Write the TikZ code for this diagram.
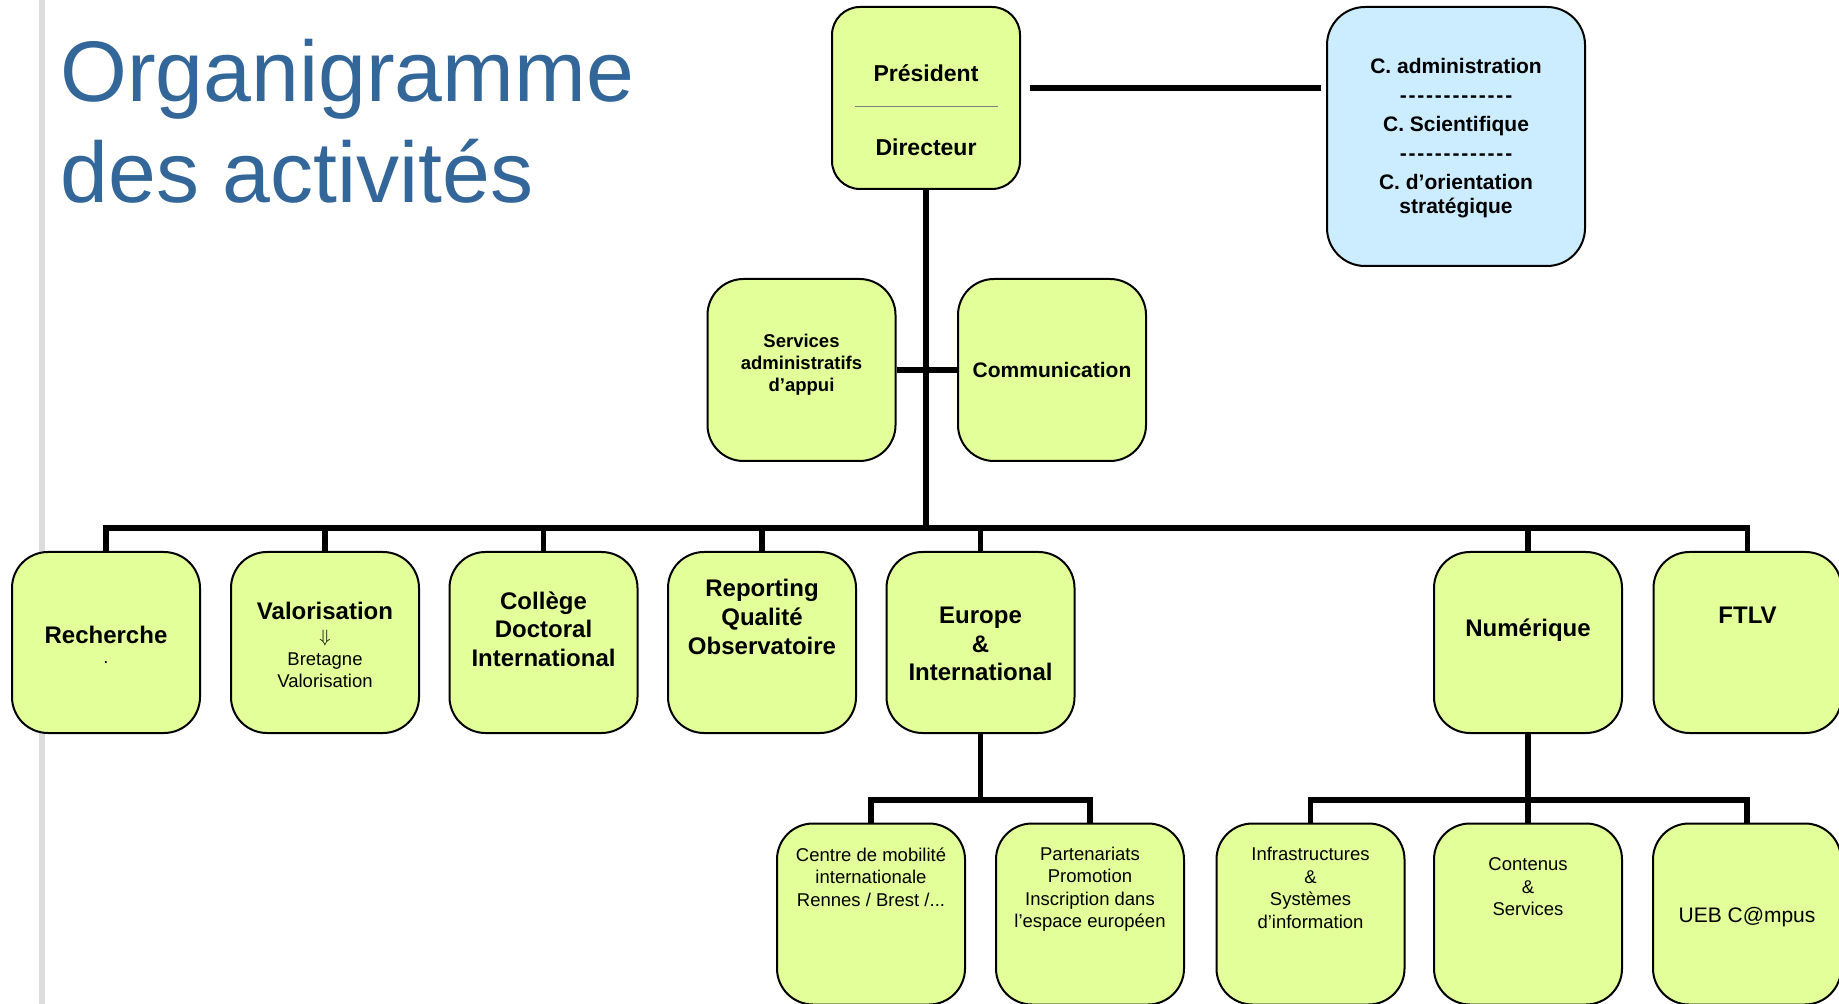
\documentclass[tikz,border=0pt]{standalone}
\usepackage{fontspec}
\setmainfont{Liberation Sans}
\definecolor{boxgreen}{RGB}{227,255,153}
\definecolor{boxblue}{RGB}{204,236,255}
\definecolor{titleblue}{RGB}{51,102,153}
\definecolor{barGray}{RGB}{221,221,221}
\newcommand\dashrow{-\kern0.9pt-\kern0.9pt-\kern0.9pt-\kern0.9pt-\kern0.9pt-\kern0.9pt-\kern0.9pt-\kern0.9pt-\kern0.9pt-\kern0.9pt-\kern0.9pt-\kern0.9pt-}
\tikzset{
  gbox/.style={draw=black, line width=1pt, fill=boxgreen, rounded corners=18pt,
    minimum width=94pt, minimum height=90.5pt, inner sep=0pt},
  bbox/.style={draw=black, line width=1pt, fill=boxblue, rounded corners=19pt,
    minimum width=129pt, minimum height=129.5pt, inner sep=0pt},
  conn/.style={line width=2.9pt, black, line join=miter},
  lbl/.style={align=center, inner sep=0pt, text=black},
  bigb/.style={font=\fontsize{12pt}{14.3pt}\selectfont\bfseries},
  smallr/.style={font=\fontsize{9.25pt}{11.25pt}\selectfont},
  titlef/.style={font=\fontsize{43pt}{50pt}\selectfont, text=titleblue, inner sep=0pt, anchor=base west},
}
\begin{document}
\begin{tikzpicture}[x=0.5pt,y=-0.5pt]
\clip (0,0) rectangle (1839,1004);
\fill[white] (0,0) rectangle (1839,1004);
\fill[barGray] (39,0) rectangle (45,1004);

% title
\node[titlef] (t1) at (60,102) {Organigramme};
\node[titlef] (t2) at (60,203) {des activités};

% helper levels
\coordinate (yline) at (0,88);
\coordinate (bus) at (0,528);
\coordinate (sub) at (0,800);

% boxes
\node[gbox, rounded corners=14pt, minimum height=91pt] (pres) at (926,98) {};
\node[bbox] (council) at (1456,136.5) {};
\node[gbox, minimum height=91pt] (serv) at (801.5,370) {};
\node[gbox, minimum height=91pt] (comm) at (1052,370) {};

\node[gbox] (rech) at (106,642.5) {};
\node[gbox] (valo) at (325,642.5) {};
\node[gbox] (coll) at (543.5,642.5) {};
\node[gbox] (repo) at (762,642.5) {};
\node[gbox] (euro) at (980.5,642.5) {};
\node[gbox] (num) at (1528,642.5) {};
\node[gbox] (ftlv) at (1747.5,642.5) {};

\node[gbox] (cmi) at (871,914) {};
\node[gbox] (part) at (1090,914) {};
\node[gbox] (infra) at (1310.5,914) {};
\node[gbox] (cont) at (1528,914) {};
\node[gbox] (ueb) at (1747,914) {};

% connectors
\draw[conn, shorten <=4.5pt, shorten >=2.5pt] (pres.east |- yline) -- (council.west |- yline);
\draw[conn] (pres.south) -- (pres.south |- bus);
\draw[conn] (serv.east) -- (comm.west);
\draw[conn] (rech.north) -- (rech.north |- bus) -- (ftlv.north |- bus) -- (ftlv.north);
\foreach \b in {valo,coll,repo,euro,num} {\draw[conn] (\b.north |- bus) -- (\b.north);}
\draw[conn] (euro.south) -- (euro.south |- sub);
\draw[conn] (cmi.north) -- (cmi.north |- sub) -- (part.north |- sub) -- (part.north);
\draw[conn] (num.south) -- (cont.north);
\draw[conn] (infra.north) -- (infra.north |- sub) -- (ueb.north |- sub) -- (ueb.north);

% president texts
\node[lbl, font=\fontsize{11.5pt}{13pt}\selectfont\bfseries] (prestxt) at (926,73) {Président};
\draw[gray, line width=0.5pt] (855,107) -- (998,107);
\node[lbl, font=\fontsize{11.5pt}{13pt}\selectfont\bfseries] (dirtxt) at (926,147) {Directeur};

% council text
\node[lbl, font=\fontsize{10.5pt}{12pt}\selectfont\bfseries] (ctxt) at (1456,138)
  {C. administration\\[2.5pt] \dashrow\\[2.5pt] C. Scientifique\\[2.5pt] \dashrow\\[2.5pt] C. d’orientation\\ stratégique};

\node[lbl, font=\fontsize{9.25pt}{11pt}\selectfont\bfseries] (servtxt) at (801.5,365) {Services\\ administratifs\\ d’appui};
\node[lbl, font=\fontsize{10.5pt}{12pt}\selectfont\bfseries] (commtxt) at (1052,370) {Communication};

% row 2 texts
\node[lbl, bigb] (rechtxt) at (106,635) {Recherche};
\node[lbl, smallr] (rechdot) at (106,663) {.};
\node[lbl, bigb] (valotxt) at (325,611) {Valorisation};
\node[lbl, smallr] (valosub) at (325,659) {$\Downarrow$\\ Bretagne\\ Valorisation};
\node[lbl, bigb] (colltxt) at (543.5,629) {Collège\\ Doctoral\\ International};
\node[lbl, bigb] (repotxt) at (762,617) {Reporting\\ Qualité\\ Observatoire};
\node[lbl, bigb] (eurotxt) at (980.5,644) {Europe\\ \&\\ International};
\node[lbl, bigb] (numtxt) at (1528,630) {Numérique};
\node[lbl, bigb] (ftlvtxt) at (1747.5,615) {FTLV};

% bottom texts
\node[lbl, smallr] (cmitxt) at (871,877) {Centre de mobilité\\ internationale\\ Rennes / Brest /...};
\node[lbl, smallr] (parttxt) at (1090,889) {Partenariats\\ Promotion\\ Inscription dans\\ l’espace européen};
\node[lbl, smallr] (infratxt) at (1310.5,888) {Infrastructures\\ \&\\ Systèmes\\ d’information};
\node[lbl, smallr] (conttxt) at (1528,887) {Contenus\\ \&\\ Services};
\node[lbl, font=\fontsize{10.5pt}{12pt}\selectfont] (uebtxt) at (1747,917) {UEB C@mpus};
\end{tikzpicture}
\end{document}
